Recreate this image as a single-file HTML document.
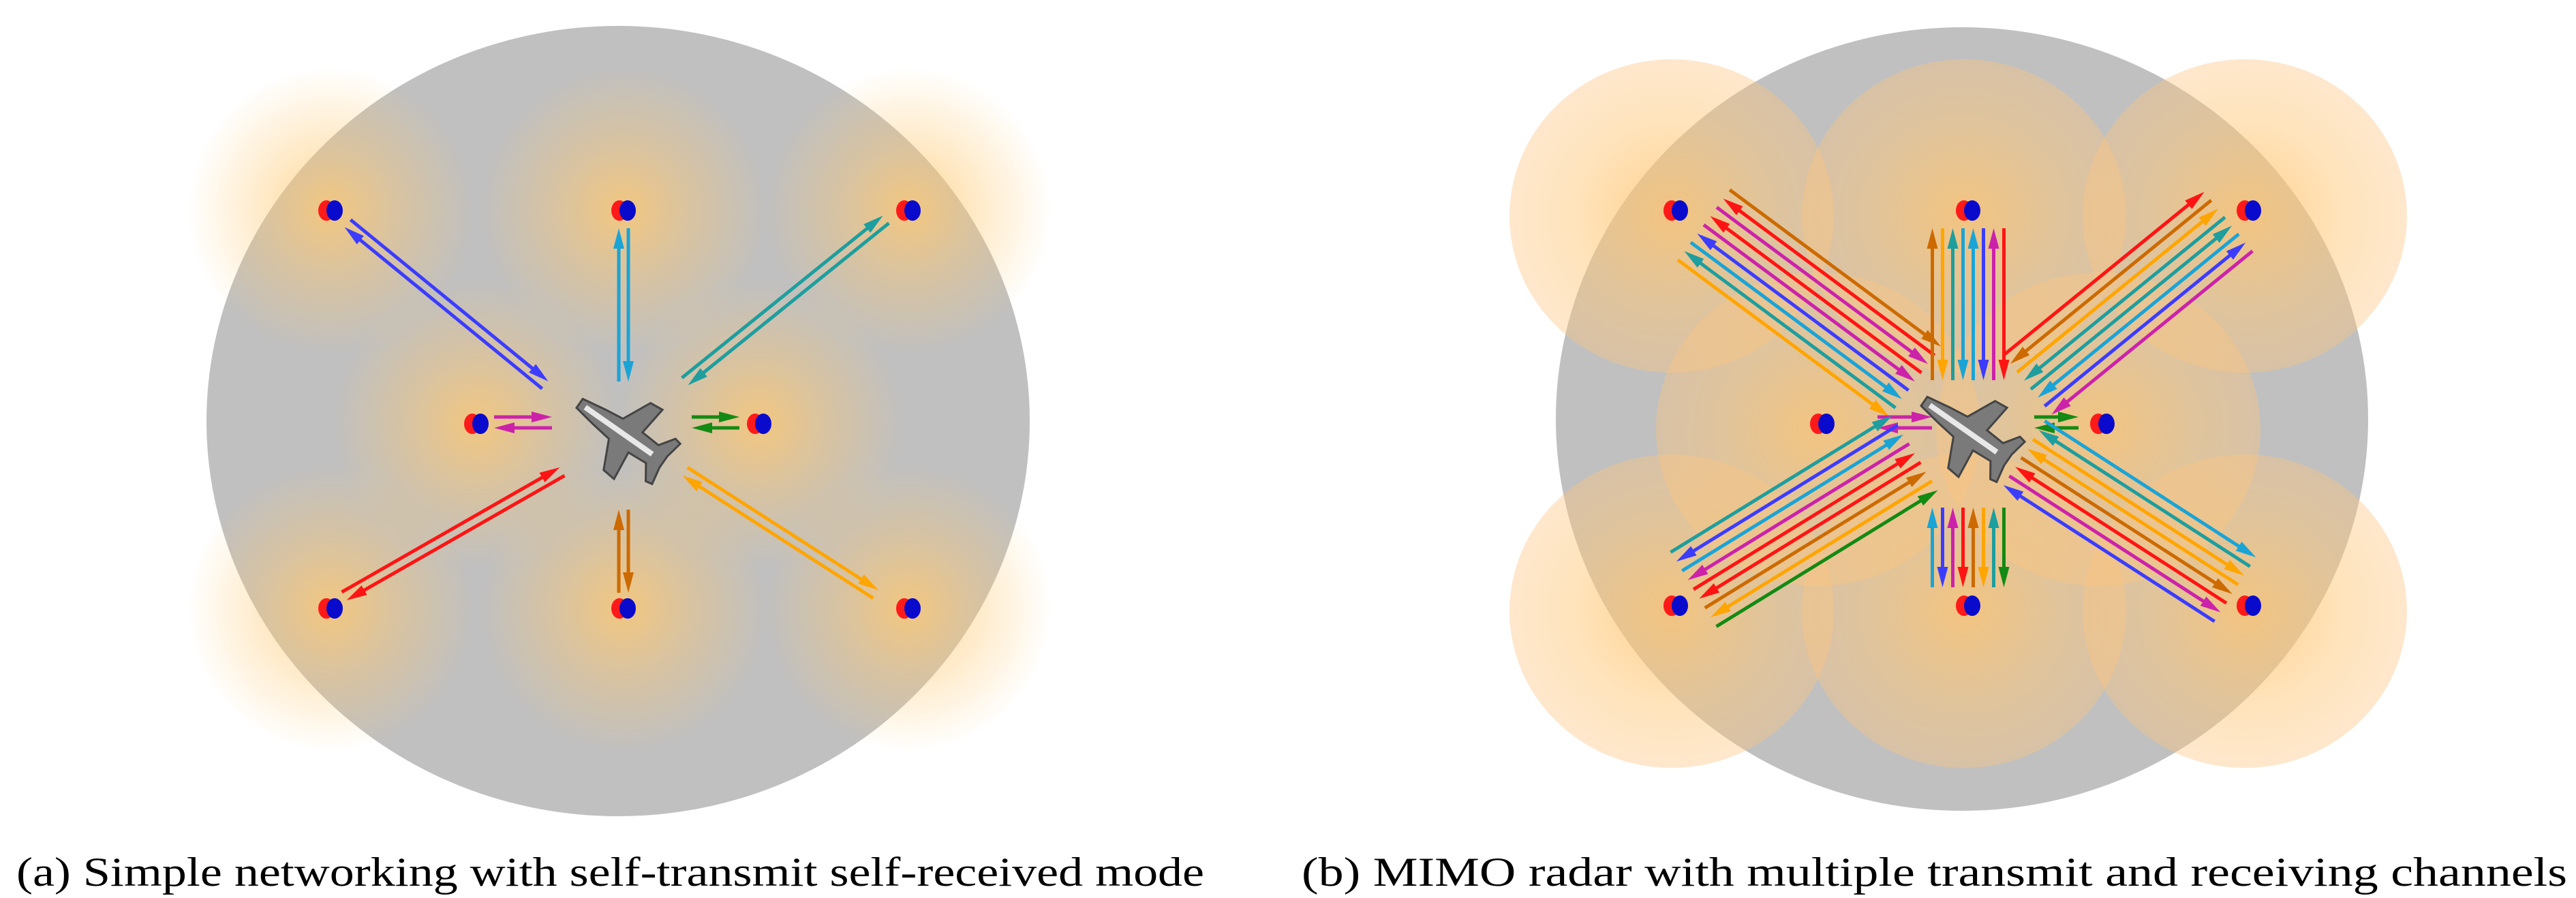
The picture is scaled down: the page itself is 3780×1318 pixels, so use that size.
<!DOCTYPE html>
<html><head><meta charset="utf-8"><style>
html,body{margin:0;padding:0;background:#fff;}
svg{display:block;}
.cap{font-family:"Liberation Serif",serif;font-size:60px;fill:#000;}
</style></head><body>
<svg id="s" width="3780" height="1318" viewBox="0 0 3780 1318" xmlns="http://www.w3.org/2000/svg">
<defs>
<radialGradient id="glow"><stop offset="0" stop-color="#ffc870" stop-opacity="0.8"/><stop offset="0.45" stop-color="#ffc870" stop-opacity="0.4"/><stop offset="1" stop-color="#ffc870" stop-opacity="0"/></radialGradient>
<radialGradient id="circ"><stop offset="0" stop-color="#ffc470" stop-opacity="0.8"/><stop offset="0.6" stop-color="#ffc878" stop-opacity="0.5"/><stop offset="1" stop-color="#fcc480" stop-opacity="0.4"/></radialGradient>
</defs>
<ellipse cx="907" cy="618" rx="604" ry="580" fill="#c0c0c0"/>
<g id="ga"></g>
<ellipse cx="2879" cy="615" rx="596" ry="575" fill="#c0c0c0"/>
<g id="gb"></g>
<g id="arr"></g>
<g id="nodes"></g>
<text class="cap" x="24" y="1300" textLength="1743" lengthAdjust="spacingAndGlyphs">(a) Simple networking with self-transmit self-received mode</text>
<text class="cap" x="1910" y="1300" textLength="1857" lengthAdjust="spacingAndGlyphs">(b) MIMO radar with multiple transmit and receiving channels</text>
</svg>
<script>
var NS="http://www.w3.org/2000/svg";
function el(p,t,a){var e=document.createElementNS(NS,t);for(var k in a)e.setAttribute(k,a[k]);document.getElementById(p).appendChild(e);return e;}
var A={nodes:[[485,309],[915,309],[1333,309],[699,622],[1114,622],[485,893],[915,893],[1333,893]],c:[912,635]};
var B={nodes:[[2459,309],[2888,309],[3300,309],[2674,622],[3085,622],[2459,889],[2888,889],[3300,889]],c:[2885,632]};
A.nodes.forEach(function(n){el("ga","circle",{cx:n[0],cy:n[1],r:210,fill:"url(#glow)"});});
B.nodes.forEach(function(n){el("gb","ellipse",{cx:n[0]-6,cy:n[1]+8,rx:238,ry:230,fill:"url(#circ)"});});
function arrow(x1,y1,x2,y2,col){
 var dx=x2-x1,dy=y2-y1,L=Math.hypot(dx,dy),ux=dx/L,uy=dy/L,h=30,w=8;
 var bx=x2-ux*h,by=y2-uy*h;
 el("arr","line",{x1:x1,y1:y1,x2:bx+ux*4,y2:by+uy*4,stroke:col,"stroke-width":5});
 el("arr","polygon",{points:x2+","+y2+" "+(bx-uy*w)+","+(by+ux*w)+" "+(bx+uy*w)+","+(by-ux*w),fill:col});
}
var C={blue:"#3c3cff",cyan:"#1aa4d6",teal:"#1e9e9e",mag:"#cc22aa",green:"#138a13",red:"#ff1414",brown:"#cc6a00",orange:"#ffa500"};
function bundle(p,q,cols,sp){
 var dx=q[0]-p[0],dy=q[1]-p[1],L=Math.hypot(dx,dy),nx=-dy/L,ny=dx/L,n=cols.length;
 cols.forEach(function(c,i){var o=(i-(n-1)/2)*sp;
  var a=[p[0]+nx*o,p[1]+ny*o],b=[q[0]+nx*o,q[1]+ny*o];
  if(i%2==0)arrow(a[0],a[1],b[0],b[1],c);else arrow(b[0],b[1],a[0],a[1],c);});
}
bundle([510,328],[800,565],[C.blue,C.blue],14);
bundle([915,335],[915,560],[C.cyan,C.cyan],14);
bundle([1300,322],[1005,560],[C.teal,C.teal],14);
bundle([725,620],[810,620],[C.mag,C.mag],16);
bundle([1085,620],[1015,620],[C.green,C.green],16);
bundle([505,875],[825,692],[C.red,C.red],14);
bundle([915,870],[915,748],[C.brown,C.brown],14);
bundle([1285,872],[1005,692],[C.orange,C.orange],14);
bundle([2500,330],[2810,560],[C.brown,C.red,C.mag,C.red,C.mag,C.blue,C.cyan,C.teal,C.orange],16);
bundle([2888,335],[2888,558],[C.red,C.mag,C.blue,C.cyan,C.cyan,C.teal,C.orange,C.brown],15);
bundle([3270,325],[2975,565],[C.mag,C.blue,C.cyan,C.teal,C.teal,C.orange,C.brown,C.red],16);
bundle([2755,620],[2835,620],[C.mag,C.mag],16);
bundle([3050,620],[2985,620],[C.green,C.green],16);
bundle([2485,865],[2810,665],[C.teal,C.blue,C.cyan,C.mag,C.red,C.red,C.brown,C.orange,C.green],16);
bundle([2888,862],[2888,745],[C.cyan,C.blue,C.mag,C.red,C.brown,C.orange,C.teal,C.green],15);
bundle([3280,865],[2970,665],[C.blue,C.mag,C.red,C.brown,C.orange,C.orange,C.teal,C.cyan],16);
A.nodes.concat(B.nodes).forEach(function(n){
 el("nodes","ellipse",{cx:n[0]-6,cy:n[1],rx:12,ry:15,fill:"#ff1a1a"});
 el("nodes","ellipse",{cx:n[0]+6,cy:n[1],rx:12,ry:15,fill:"#0a0acc"});
});
[A.c,B.c].forEach(function(c){
 var g=el("nodes","g",{transform:"translate("+c[0]+","+c[1]+") rotate(35)"});
 var pts=[[-75,-8],[-40,-14],[-10,-18],[10,-60],[30,-62],[25,-18],[55,-16],[70,-38],[80,-36],[75,-10],[75,10],[80,36],[70,38],[55,16],[25,18],[30,62],[10,60],[-10,18],[-40,14],[-75,8]];
 var p=document.createElementNS(NS,"polygon");p.setAttribute("points",pts.map(function(a){return a.join(",")}).join(" "));p.setAttribute("fill","#7a7a7a");p.setAttribute("stroke","#444");p.setAttribute("stroke-width","3");g.appendChild(p);
 var r=document.createElementNS(NS,"rect");r.setAttribute("x",-65);r.setAttribute("y",-4);r.setAttribute("width",120);r.setAttribute("height",8);r.setAttribute("fill","#e8e8e8");g.appendChild(r);
});
</script>
</body></html>
